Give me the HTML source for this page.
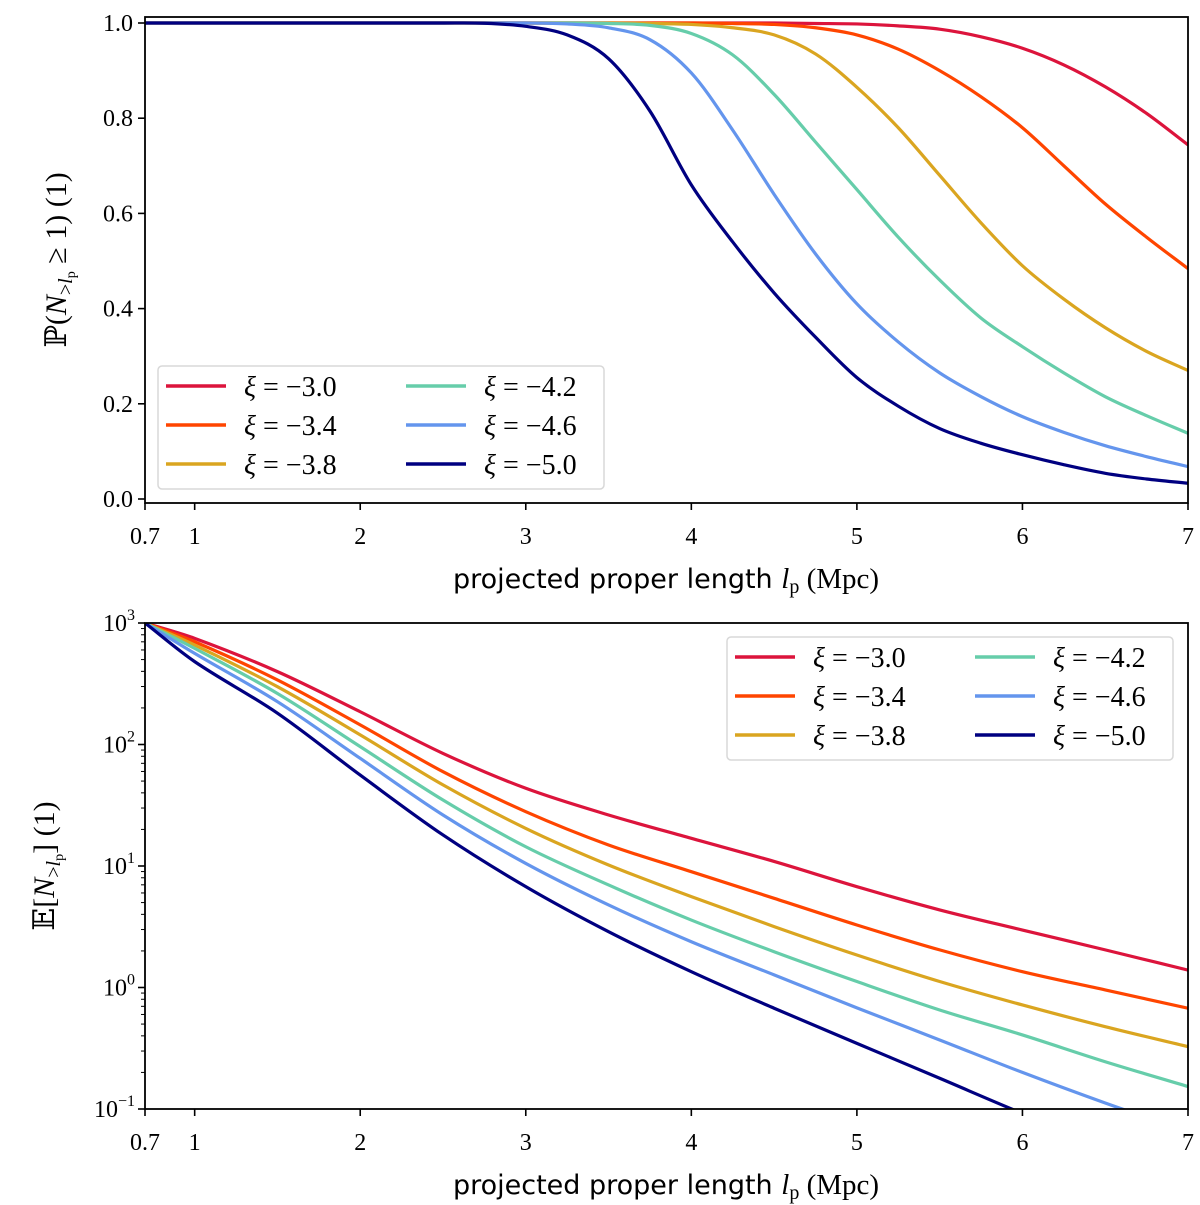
<!DOCTYPE html>
<html><head><meta charset="utf-8"><style>
body{margin:0;background:#fff;width:1200px;height:1205px;overflow:hidden}
svg{display:block}
text{font-family:"Liberation Serif","DejaVu Serif",serif;fill:#000}
.tk{font-size:24px}
.sans{font-family:"DejaVu Sans","Liberation Sans",sans-serif}
</style></head><body>
<svg id="fig" width="1200" height="1205">
<defs>
<clipPath id="c1"><rect x="145" y="17" width="1043" height="486"/></clipPath>
<clipPath id="c2"><rect x="145" y="623" width="1043" height="486"/></clipPath>
</defs>
<g id="top"></g>
<g id="bot"></g>
</svg>
<script>
const names = ["ξ = −3.0","ξ = −3.4","ξ = −3.8","ξ = −4.2","ξ = −4.6","ξ = −5.0"];
const colors = ["#dc143c","#ff4500","#daa520","#66cdaa","#6495ed","#000080"];
const topX = [0.7,1,2,2.5,2.75,3,3.25,3.5,3.75,4,4.25,4.5,4.75,5,5.25,5.5,5.75,6,6.25,6.5,6.75,7];
const topS0 = [1,1,1,1,1,1,1,1,1,1,1,1,0.999,0.998,0.994,0.987,0.971,0.947,0.912,0.866,0.81,0.744];
const topS1 = [1,1,1,1,1,1,1,1,1,1,0.999,0.997,0.99,0.975,0.945,0.9,0.845,0.78,0.70,0.62,0.55,0.484];
const topS2 = [1,1,1,1,1,1,1,1,0.999,0.997,0.99,0.975,0.935,0.865,0.78,0.68,0.58,0.49,0.42,0.36,0.31,0.27];
const topS3 = [1,1,1,1,1,1,1,0.999,0.995,0.978,0.933,0.85,0.75,0.65,0.55,0.46,0.38,0.32,0.265,0.215,0.175,0.138];
const topS4 = [1,1,1,1,1,1,0.998,0.99,0.965,0.895,0.775,0.64,0.515,0.41,0.33,0.265,0.215,0.173,0.14,0.112,0.089,0.068];
const topS5 = [1,1,1,1,0.9995,0.993,0.975,0.925,0.815,0.66,0.54,0.433,0.34,0.255,0.195,0.148,0.117,0.093,0.072,0.054,0.042,0.033];
const botX = [0.7,1,1.5,2,2.5,3,3.5,4,4.5,5,5.5,6,6.5,7];
const botS0 = [1000,748,398,186,84.5,43.6,26.3,16.9,10.9,6.76,4.35,2.97,2.04,1.39];
const botS1 = [1000,701,340,145,59.7,28,14.9,8.98,5.42,3.27,2.04,1.35,0.955,0.675];
const botS2 = [1000,659,299,120,46.5,20.4,10.2,5.6,3.17,1.85,1.12,0.718,0.476,0.326];
const botS3 = [1000,618,263,96,34.9,14.4,6.98,3.59,1.97,1.12,0.653,0.407,0.245,0.153];
const botS4 = [1000,562,225,76.9,26.3,10.5,4.78,2.38,1.27,0.68,0.37,0.2,0.112,0.065];
const botS5 = [1000,481,181,56,18,6.76,2.88,1.35,0.675,0.347,0.179,0.092,0.05,0.028];
const xTicks = [0.7,1,2,3,4,5,6,7];
const xTickLabels = ["0.7","1","2","3","4","5","6","7"];
const yTopTicks = [0,0.2,0.4,0.6,0.8,1.0];
const yTopLabels = ["0.0","0.2","0.4","0.6","0.8","1.0"];
const yBotExp = [-1,0,1,2,3];

const NS="http://www.w3.org/2000/svg";
const L=145,R=1188;
const xS=v=>L+(v-0.7)/(7-0.7)*(R-L);
const yTop=v=>499-v*476;
const yBot=v=>623+(3-Math.log10(v))*121.5;

function mk(tag,attrs,parent){const e=document.createElementNS(NS,tag);for(const k in attrs)e.setAttribute(k,attrs[k]);parent.appendChild(e);return e;}

function smooth(pts){
  let p="M"+pts[0][0].toFixed(2)+","+pts[0][1].toFixed(2);
  for(let i=0;i<pts.length-1;i++){
    const p0=pts[Math.max(0,i-1)],p1=pts[i],p2=pts[i+1],p3=pts[Math.min(pts.length-1,i+2)];
    const h=p2[0]-p1[0];
    const m1=(p2[1]-p0[1])/(p2[0]-p0[0]), m2=(p3[1]-p1[1])/(p3[0]-p1[0]);
    p+=" C"+(p1[0]+h/3).toFixed(2)+","+(p1[1]+m1*h/3).toFixed(2)+" "+(p2[0]-h/3).toFixed(2)+","+(p2[1]-m2*h/3).toFixed(2)+" "+p2[0].toFixed(2)+","+p2[1].toFixed(2);
  }
  return p;
}

function xAxis(g,y0,labY){
  xTicks.forEach((v,i)=>{
    const t=mk("line",{x1:xS(v),x2:xS(v),y1:y0,y2:y0+7,stroke:"#000","stroke-width":1.6},g);
    
    
    const tx=mk("text",{x:xS(v),y:labY,"text-anchor":"middle",class:"tk"},g);
    tx.textContent=xTickLabels[i];
    
    
  });
  const xl=mk("text",{x:666,y:labY+44,"text-anchor":"middle","font-size":"29"},g);
  
  
  xl.innerHTML='<tspan class="sans" font-size="27">projected proper length </tspan><tspan font-style="italic">l</tspan><tspan font-size="20" dy="5">p</tspan><tspan dy="-5"> (Mpc)</tspan>';
}
function legend(g,x0,y0){
  const b=mk("rect",{x:x0,y:y0,width:446,height:123,rx:4,fill:"#fff",stroke:"#d8d8d8","stroke-width":1.5},g);
  
  
  names.forEach((nm,i)=>{
    const col=Math.floor(i/3),row=i%3;
    const lx=x0+8+col*240,ly=y0+20+row*39;
    const ln=mk("line",{x1:lx,x2:lx+60,y1:ly,y2:ly,stroke:colors[i],"stroke-width":3.5},g);
    
    
    const t=mk("text",{x:lx+78,y:ly+10,"font-size":"28"},g);
    t.innerHTML='<tspan font-style="italic">ξ</tspan> = −'+nm.split("−")[1];
    
    
  });
}

// TOP
const gt=document.getElementById("top");
const topSeries=[topS0,topS1,topS2,topS3,topS4,topS5];
const ct=mk("g",{"clip-path":"url(#c1)"},gt);
topSeries.forEach((s,i)=>{
  const p=mk("path",{d:smooth(topX.map((x,j)=>[xS(x),yTop(s[j])])),fill:"none",stroke:colors[i],"stroke-width":3.2},ct);
  
  
});
const f1=mk("rect",{x:L,y:17,width:R-L,height:486,fill:"none",stroke:"#000","stroke-width":1.8},gt);


yTopTicks.forEach((v,i)=>{
  const t=mk("line",{x1:L-7,x2:L,y1:yTop(v),y2:yTop(v),stroke:"#000","stroke-width":1.6},gt);
  
  
  const tx=mk("text",{x:L-12,y:yTop(v)+8,"text-anchor":"end",class:"tk"},gt);
  tx.textContent=yTopLabels[i];
  
  
});
xAxis(gt,503,544);
const yl1=mk("text",{transform:"translate(66,260) rotate(-90)","text-anchor":"middle","font-size":"30"},gt);
yl1.innerHTML='ℙ(<tspan font-style="italic">N</tspan><tspan font-size="20" dy="6">&gt;</tspan><tspan font-size="20" font-style="italic">l</tspan><tspan font-size="14" dy="3">p</tspan><tspan dy="-9"> ≥ 1) (1)</tspan>';


legend(gt,158,366);

// BOTTOM
const gb=document.getElementById("bot");
const botSeries=[botS0,botS1,botS2,botS3,botS4,botS5];
const cb=mk("g",{"clip-path":"url(#c2)"},gb);
botSeries.forEach((s,i)=>{
  const p=mk("path",{d:smooth(botX.map((x,j)=>[xS(x),yBot(s[j])])),fill:"none",stroke:colors[i],"stroke-width":3.2},cb);
  
  
});
const f2=mk("rect",{x:L,y:623,width:R-L,height:486,fill:"none",stroke:"#000","stroke-width":1.8},gb);


yBotExp.forEach(e=>{
  const y=yBot(Math.pow(10,e));
  const t=mk("line",{x1:L-7,x2:L,y1:y,y2:y,stroke:"#000","stroke-width":1.6},gb);
  
  
  const tx=mk("text",{x:L-10,y:y+8,"text-anchor":"end",class:"tk"},gb);
  tx.innerHTML='10<tspan font-size="16" dy="-11">'+(e<0?'−'+(-e):e)+'</tspan>';
  
  
  if(e<3)for(let k=2;k<10;k++){
    const mt=mk("line",{x1:L-4,x2:L,y1:yBot(k*Math.pow(10,e)),y2:yBot(k*Math.pow(10,e)),stroke:"#000","stroke-width":1},gb);
    
    
  }
});
xAxis(gb,1109,1150);
const yl2=mk("text",{transform:"translate(54,866) rotate(-90)","text-anchor":"middle","font-size":"30"},gb);
yl2.innerHTML='𝔼[<tspan font-style="italic">N</tspan><tspan font-size="20" dy="6">&gt;</tspan><tspan font-size="20" font-style="italic">l</tspan><tspan font-size="14" dy="3">p</tspan><tspan dy="-9">] (1)</tspan>';


legend(gb,727,637);
</script>
</body></html>
